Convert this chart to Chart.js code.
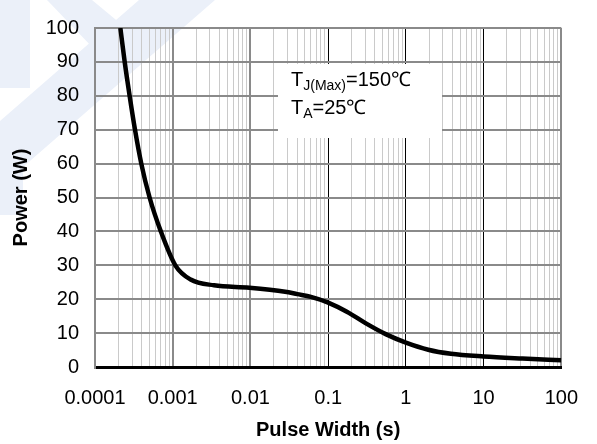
<!DOCTYPE html>
<html lang="en">
<head>
    <meta charset="UTF-8" />
    <title>Power vs Pulse Width</title>
    <style>
        body {
            margin: 0;
            background: #fff;
        }
        .chart-box {
            width: 597px;
            height: 444px;
            position: relative;
        }
    </style>
</head>
<body>
    <div class="chart-box">
        <canvas id="powerChart"></canvas>
    </div>

    <script src="https://cdn.jsdelivr.net/npm/chart.js"></script>
    <script>
        // curve (pulse width in s, power in W)
        const pulseWidth = [0.000212, 0.000241, 0.000279, 0.000327, 0.000394, 0.000504, 0.000703, 0.00108, 0.0017, 0.0034, 0.0097, 0.028, 0.04, 0.06, 0.1, 0.174, 0.31, 0.55, 1, 1.94, 3.8, 10, 31.6, 100];
        const power = [100, 90, 80, 70, 60, 50, 40, 30, 25.8, 24.1, 23.4, 22.2, 21.5, 20.7, 19.0, 16.3, 12.8, 9.7, 7.2, 5.1, 3.9, 3.1, 2.5, 2.0];

        const xDecades = [0.0001, 0.001, 0.01, 0.1, 1, 10, 100];
        const xTickLabels = ['0.0001', '0.001', '0.01', '0.1', '1', '10', '100'];
        const darkDecades = [0.1, 1, 10];

        const noteLines = [
            { main: 'T', sub: 'J(Max)', rest: '=150\u2103' },
            { main: 'T', sub: 'A', rest: '=25\u2103' }
        ];

        const FONT = 'Liberation Sans, Arial, sans-serif';
        Chart.defaults.font.family = FONT;
        Chart.defaults.color = '#000';

        // 1..9 x 10^n grid positions between the decades
        const gridValues = [];
        xDecades.forEach((d, i) => {
            if (i === xDecades.length - 1) { gridValues.push(d); return; }
            for (let k = 1; k <= 9; k++) gridValues.push(+(d * k).toPrecision(3));
        });

        function decadeIndex(v) {
            return xDecades.findIndex(d => Math.abs(Math.log10(d) - Math.log10(v)) < 1e-6);
        }

        const watermark = {
            id: 'watermark',
            beforeDraw(chart) {
                const ctx = chart.ctx;
                const shapes = [
                    [[0, 0], [30, 0], [30, 88], [0, 88]],
                    [[47, 0], [92, 0], [150, 48], [118, 74]],
                    [[139, 0], [215, 0], [0, 187], [0, 121]],
                    [[0, 137], [23, 137], [23, 215], [0, 215]]
                ];
                ctx.save();
                ctx.fillStyle = '#ebf0f9';
                shapes.forEach(s => {
                    ctx.beginPath();
                    s.forEach((p, i) => i ? ctx.lineTo(p[0], p[1]) : ctx.moveTo(p[0], p[1]));
                    ctx.closePath();
                    ctx.fill();
                });
                ctx.restore();
            }
        };

        const noteBox = {
            id: 'noteBox',
            beforeDatasetsDraw(chart) {
                const ctx = chart.ctx;
                ctx.save();
                ctx.fillStyle = '#fff';
                ctx.fillRect(278, 64, 164, 74);
                ctx.fillStyle = '#000';
                ctx.textBaseline = 'alphabetic';
                const baselines = [86, 114];
                noteLines.forEach((ln, i) => {
                    let x = 291;
                    const y = baselines[i];
                    ctx.font = '20px ' + FONT;
                    ctx.fillText(ln.main, x, y);
                    x += ctx.measureText(ln.main).width;
                    ctx.font = '14px ' + FONT;
                    ctx.fillText(ln.sub, x, y + 4);
                    x += ctx.measureText(ln.sub).width;
                    ctx.font = '20px ' + FONT;
                    ctx.fillText(ln.rest, x, y);
                });
                ctx.restore();
            }
        };

        new Chart(document.getElementById('powerChart'), {
            type: 'line',
            data: {
                datasets: [{
                    data: pulseWidth.map((x, i) => ({ x: x, y: power[i] })),
                    borderColor: '#000',
                    borderWidth: 4.5,
                    pointRadius: 0,
                    cubicInterpolationMode: 'monotone',
                    fill: false
                }]
            },
            options: {
                responsive: true,
                maintainAspectRatio: false,
                animation: false,
                layout: { padding: { left: 0, right: 24, top: 17, bottom: 0 } },
                plugins: {
                    legend: { display: false },
                    tooltip: { enabled: false }
                },
                scales: {
                    x: {
                        type: 'logarithmic',
                        min: 0.0001,
                        max: 100,
                        afterBuildTicks: scale => {
                            scale.ticks = gridValues.map(v => ({ value: v }));
                        },
                        afterFit: scale => { scale.height = 77; },
                        ticks: {
                            autoSkip: false,
                            maxRotation: 0,
                            padding: 19,
                            font: { size: 20 },
                            callback: v => {
                                const i = decadeIndex(v);
                                return i >= 0 ? xTickLabels[i] : '';
                            }
                        },
                        grid: {
                            drawTicks: false,
                            color: c => {
                                const i = decadeIndex(c.tick.value);
                                if (i < 0) return '#cacaca';
                                return darkDecades.includes(xDecades[i]) ? '#000' : '#8a8a8a';
                            },
                            lineWidth: c => {
                                const i = decadeIndex(c.tick.value);
                                if (i < 0) return 1;
                                return darkDecades.includes(xDecades[i]) ? 1 : 2;
                            }
                        },
                        border: { color: '#000', width: 3 },
                        title: {
                            display: true,
                            text: 'Pulse Width (s)',
                            font: { size: 20, weight: 'bold' },
                            padding: { top: 0, bottom: 2 }
                        }
                    },
                    y: {
                        min: 0,
                        max: 100,
                        afterFit: scale => { scale.width = 95; },
                        ticks: {
                            stepSize: 10,
                            padding: 16,
                            font: { size: 20 }
                        },
                        grid: {
                            drawTicks: false,
                            color: c => c.tick.value === 0 ? '#000' : '#8a8a8a',
                            lineWidth: c => c.tick.value === 0 ? 3 : 2
                        },
                        border: { color: '#8a8a8a', width: 2 },
                        title: {
                            display: true,
                            text: 'Power (W)',
                            font: { size: 20, weight: 'bold' },
                            padding: { top: 9, bottom: 0 }
                        }
                    }
                }
            },
            plugins: [watermark, noteBox]
        });
    </script>
</body>
</html>
